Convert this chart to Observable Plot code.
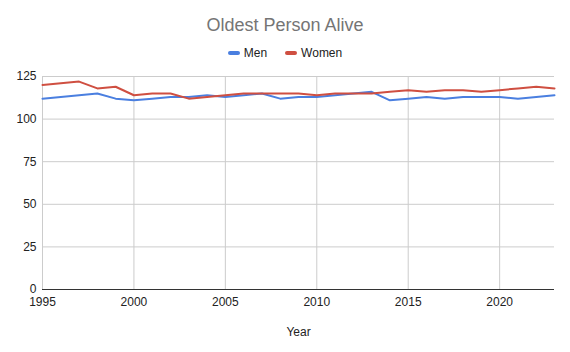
<!DOCTYPE html>
<html>
<head>
<meta charset="utf-8">
<script src="https://cdn.jsdelivr.net/npm/d3@7"></script>
<script src="https://cdn.jsdelivr.net/npm/@observablehq/plot@0.6"></script>
<style>
  body { margin: 0; background: #fff; font-family: "Liberation Sans", Arial, sans-serif; }
  #wrap { width: 570px; height: 352px; overflow: hidden; }
  #title { margin-top: 15px; height: 20px; line-height: 20px; text-align: center; font-size: 18px; color: #757575; }
  #legend { margin-top: 11px; height: 14px; line-height: 14px; text-align: center; font-size: 12px; color: #222; }
  .item { display: inline-block; margin: 0 9px; }
  .sw { display: inline-block; width: 12px; height: 4px; border-radius: 2px; vertical-align: middle; margin-right: 4px; position: relative; top: -1px; }
  svg { display: block; }
</style>
</head>
<body>
<div id="wrap">
  <div id="title">Oldest Person Alive</div>
  <div id="legend"></div>
  <div id="chart"></div>
</div>
<script>
const years = [1995,1996,1997,1998,1999,2000,2001,2002,2003,2004,2005,2006,2007,2008,2009,2010,2011,2012,2013,2014,2015,2016,2017,2018,2019,2020,2021,2022,2023];
const men   = [112,113,114,115,112,111,112,113,113,114,113,114,115,112,113,113,114,115,116,111,112,113,112,113,113,113,112,113,114];
const women = [120,121,122,118,119,114,115,115,112,113,114,115,115,115,115,114,115,115,115,116,117,116,117,117,116,117,118,119,118];
const seriesNames = ["Men", "Women"];
const seriesColors = ["#4a7fe0", "#cf4f41"];
const xTicks = [1995, 2000, 2005, 2010, 2015, 2020];
const yTicks = [0, 25, 50, 75, 100, 125];

const data = [];
years.forEach((y, i) => {
  data.push({year: y, value: men[i], series: "Men"});
  data.push({year: y, value: women[i], series: "Women"});
});

const legend = document.getElementById("legend");
seriesNames.forEach((n, i) => {
  const s = document.createElement("span");
  s.className = "item";
  s.innerHTML = `<span class="sw" style="background:${seriesColors[i]}"></span>${n}`;
  legend.appendChild(s);
});

const chart = Plot.plot({
  width: 570,
  height: 292,
  marginTop: 16,
  marginBottom: 63,
  marginLeft: 42,
  marginRight: 16,
  style: {fontFamily: "Liberation Sans, Arial, sans-serif", fontSize: "12px", color: "#222", background: "#fff"},
  x: {domain: [1995, 2023], ticks: xTicks, tickFormat: d => String(d), label: null, tickSize: 0, tickPadding: 8},
  y: {domain: [0, 125], ticks: yTicks, label: null, tickSize: 0, tickPadding: 6},
  color: {domain: seriesNames, range: seriesColors},
  marks: [
    Plot.gridX(xTicks, {stroke: "#cccccc", strokeOpacity: 1, strokeWidth: 1}),
    Plot.gridY(yTicks, {stroke: "#cccccc", strokeOpacity: 1, strokeWidth: 1}),
    Plot.ruleY([0], {stroke: "#333", strokeWidth: 1.2}),
    Plot.line(data, {x: "year", y: "value", z: "series", stroke: "series", strokeWidth: 2, strokeLinejoin: "round"}),
    Plot.text(["Year"], {frameAnchor: "bottom", dy: 46, fontSize: 12, fill: "#222"})
  ]
});
document.getElementById("chart").appendChild(chart);
</script>
</body>
</html>
